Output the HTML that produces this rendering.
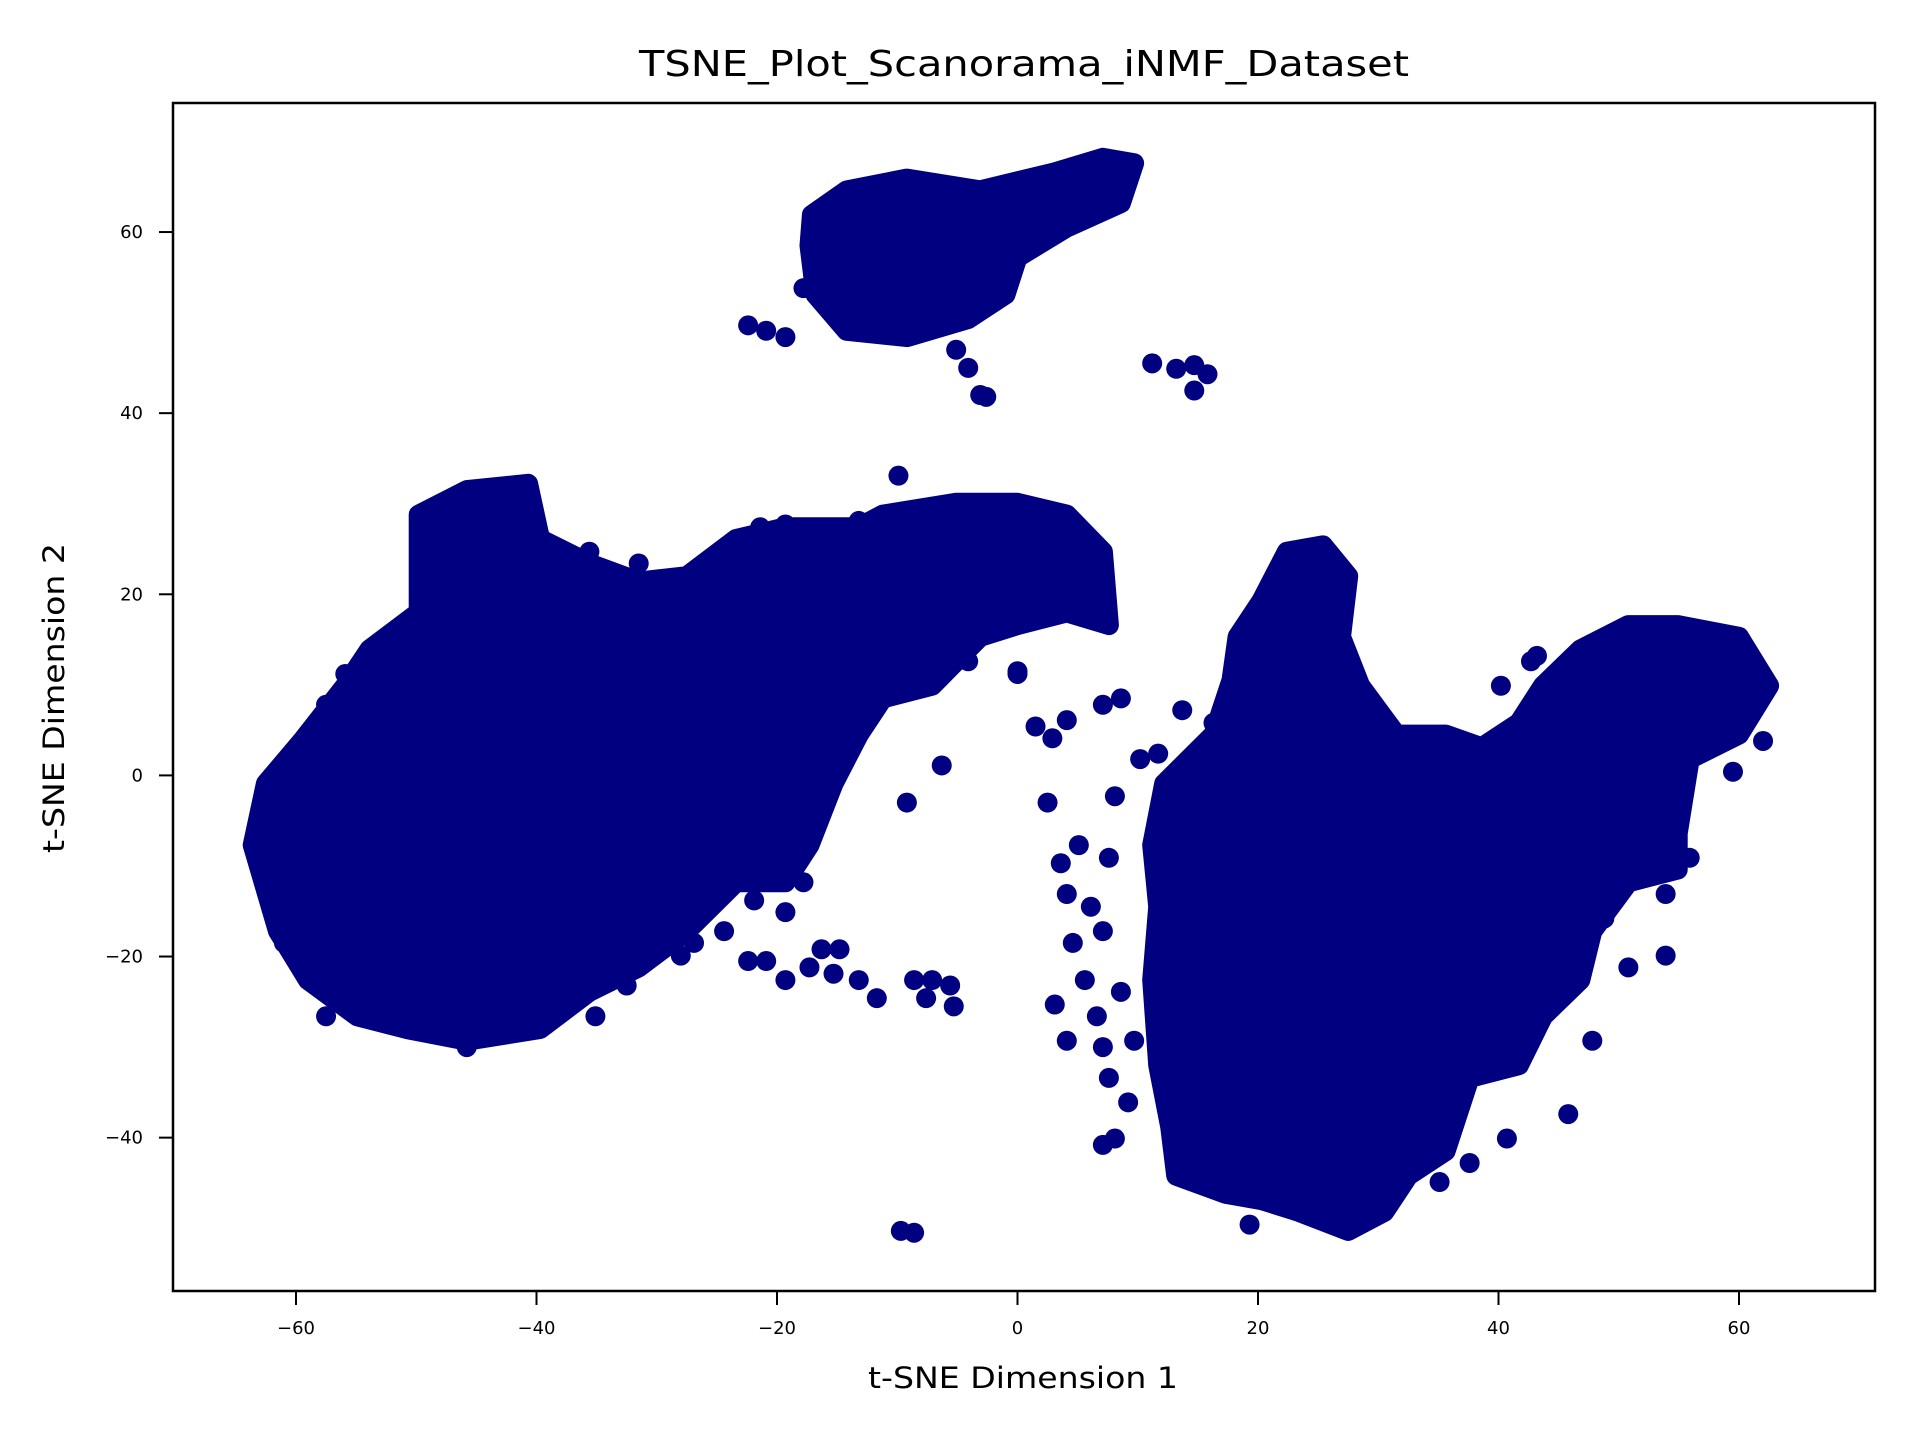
<!DOCTYPE html>
<html><head><meta charset="utf-8"><style>
html,body{margin:0;padding:0;background:#fff;}
svg{display:block;font-family:"DejaVu Sans","Liberation Sans",sans-serif;}
</style></head><body>
<svg id="chart" width="1920" height="1440" viewBox="0 0 1920 1440">
<rect width="1920" height="1440" fill="#fff"/>
<text x="1024" y="76" font-size="36" text-anchor="middle" textLength="770" lengthAdjust="spacingAndGlyphs">TSNE_Plot_Scanorama_iNMF_Dataset</text>
<text x="1023" y="1388" font-size="29" text-anchor="middle" textLength="310" lengthAdjust="spacingAndGlyphs">t-SNE Dimension 1</text>
<text x="0" y="0" font-size="29" text-anchor="middle" textLength="310" lengthAdjust="spacingAndGlyphs" transform="translate(64,698) rotate(-90)">t-SNE Dimension 2</text>
<g id="marks"></g>
<g id="axes"></g>
</svg>
<script>
const xTicks = [-60, -40, -20, 0, 20, 40, 60];
const yTicks = [-40, -20, 0, 20, 40, 60];
// dense cluster outlines (data coordinates)
const clusterTopX = [-17.1,-14.2,-9.2,-3.1,3.1,7.1,9.7,8.6,4.1,0,-1,-4.1,-9.2,-14.2,-16.8,-17.3];
const clusterTopY = [61.9,64.6,65.9,64.6,66.6,68.2,67.6,63.2,60.5,57.2,53.1,50.4,48.4,49.1,53.1,58.5];
const clusterLeftX = [-63.6,-62.5,-59.5,-55.9,-53.9,-49.8,-49.8,-45.8,-40.7,-39.7,-35.6,-31.5,-27.5,-23.4,-19.3,-13.2,-11.2,-5.1,0,4.1,7.1,7.6,4.1,0,-3.1,-7.1,-11.2,-13.2,-15.3,-17.3,-19.3,-23.4,-27.5,-31.5,-35.6,-39.7,-45.8,-50.8,-54.9,-59,-61.5];
const clusterLeftY = [-7.7,-0.9,3.8,9.9,13.9,18.0,28.8,31.5,32.2,26.1,23.4,21.4,22.0,26.1,27.4,27.4,28.8,30.1,30.1,28.8,24.7,16.6,18.0,16.6,15.3,9.9,8.5,4.5,-0.9,-7.7,-11.8,-11.8,-17.2,-21.2,-23.9,-28.0,-29.3,-28.0,-26.6,-22.6,-17.2];
const clusterRightX = [11.2,12.2,16.3,17.8,18.3,20.3,22.4,25.4,27.5,26.9,28.5,31.5,35.6,38.6,41.7,43.7,46.8,50.8,54.9,60,62.5,60,55.9,54.9,54.9,50.8,47.8,46.8,43.7,41.7,37.6,35.6,32.5,30.5,27.5,23.4,20.3,17.3,13.2,12.7,11.7,11.2,11.7];
const clusterRightY = [-7.7,-0.9,4.5,10.5,15.3,19.3,24.7,25.4,22.0,15.3,9.9,4.5,4.5,3.1,5.8,9.9,13.9,16.6,16.6,15.3,9.9,4.5,1.8,-6.4,-10.4,-11.8,-17.2,-22.6,-26.6,-32.0,-33.4,-41.5,-44.2,-48.2,-50.3,-48.2,-46.9,-46.2,-44.2,-38.8,-32.0,-22.6,-14.5];
// individual scattered points
const pointsX = [-22.4,-20.9,-19.3,-17.8,-5.1,-4.1,-3.1,-2.6,11.2,13.2,14.7,15.8,14.7,-9.9,
 -22.4,-20.9,-19.3,-17.3,-15.3,-13.2,-11.7,-16.3,-14.8,-8.6,-7.1,-5.6,-7.6,-5.3,-9.7,-8.6,
 -6.3,-9.2,0,1.5,2.9,4.1,2.5,
 3.6,5.1,4.1,6.1,7.1,4.6,5.6,6.6,7.1,7.6,7.1,8.1,9.2,9.7,8.6,7.6,8.1,10.2,11.7,13.7,16.3,18.3,7.1,8.6,4.1,3.1,40.2,42.7,41.7,46.8,49.8,47.8,45.8,40.7,37.6,35.1,19.3,50.8,53.9,41.7,44.2,47.8,51.9,53.9,55.9,48.8,59.5,62.0,43.2,
 -55.9,-57.5,-60,-63.1,-62.5,-61,-56.4,-57.5,-48.3,-45.8,-40.7,-35.1,-32.5,-28,-26.9,-24.4,-21.9,-19.3,-17.8,-20.3,-25.4,-31.5,-35.6,-38.1,-23.4,-21.4,-19.3,-23.9,-13.2,-12.2,-9.2,-7.1,-4.1,0];
const pointsY = [49.7,49.1,48.4,53.8,47,45,42,41.8,45.5,44.9,45.3,44.3,42.5,33.1,
 -20.5,-20.5,-22.6,-21.2,-21.9,-22.6,-24.6,-19.2,-19.2,-22.6,-22.6,-23.2,-24.6,-25.5,-50.3,-50.5,
 1.1,-3.0,11.5,5.4,4.1,6.1,-3,
 -9.7,-7.7,-13.1,-14.5,-17.2,-18.5,-22.6,-26.6,-30.0,-33.4,-40.8,-40.1,-36.1,-29.3,-23.9,-9.1,-2.3,1.8,2.4,7.2,5.8,11.2,7.8,8.5,-29.3,-25.3,9.9,12.6,-6.4,-6.4,-7.7,-29.3,-37.4,-40.1,-42.8,-44.9,-49.6,-21.2,-19.9,-19.9,-21.2,-9.1,-9.1,-13.1,-9.1,-15.8,0.4,3.8,13.2,
 11.2,7.8,1.8,-5.0,-9.7,-18.5,-23.9,-26.6,-28.6,-30,-28.0,-26.6,-23.2,-19.9,-18.5,-17.2,-13.8,-15.1,-11.8,-9.1,12.6,23.4,24.7,22.0,24.7,27.4,27.7,21.4,28.1,27.4,22.0,19.3,12.6,11.2];

const L=173,R=1875,T=103,B=1291;
const xS = v => 1017.5 + v*12.025;
const yS = v => 775.4 - v*9.056;
const NS='http://www.w3.org/2000/svg';
const COLOR='#000080', RAD=10;
const marks=document.getElementById('marks');
const axes=document.getElementById('axes');
const clip=document.createElementNS(NS,'clipPath');clip.setAttribute('id','pc');
const cr=document.createElementNS(NS,'rect');
cr.setAttribute('x',L);cr.setAttribute('y',T);cr.setAttribute('width',R-L);cr.setAttribute('height',B-T);
clip.appendChild(cr);document.getElementById('chart').appendChild(clip);
marks.setAttribute('clip-path','url(#pc)');

function cluster(xs,ys,name){
  const p=document.createElementNS(NS,'polygon');
  p.setAttribute('points',xs.map((x,i)=>xS(x).toFixed(1)+','+yS(ys[i]).toFixed(1)).join(' '));
  p.setAttribute('fill',COLOR);p.setAttribute('stroke',COLOR);
  p.setAttribute('stroke-width',RAD*2);p.setAttribute('stroke-linejoin','round');
  
  
  marks.appendChild(p);
}
cluster(clusterTopX,clusterTopY,'cluster-top');
cluster(clusterLeftX,clusterLeftY,'cluster-left');
cluster(clusterRightX,clusterRightY,'cluster-right');
pointsX.forEach((x,i)=>{
  const c=document.createElementNS(NS,'circle');
  c.setAttribute('cx',xS(x));c.setAttribute('cy',yS(pointsY[i]));c.setAttribute('r',RAD);c.setAttribute('fill',COLOR);
  
  
  marks.appendChild(c);
});
const frame=document.createElementNS(NS,'rect');
frame.setAttribute('x',L);frame.setAttribute('y',T);frame.setAttribute('width',R-L);frame.setAttribute('height',B-T);
frame.setAttribute('fill','none');frame.setAttribute('stroke','#000');frame.setAttribute('stroke-width','2.5');


axes.appendChild(frame);
const fmt=v=>v<0?'\u2212'+Math.abs(v):String(v);
xTicks.forEach(v=>{
  const x=xS(v);
  const l=document.createElementNS(NS,'line');
  l.setAttribute('x1',x);l.setAttribute('x2',x);l.setAttribute('y1',B);l.setAttribute('y2',B+14);
  l.setAttribute('stroke','#000');l.setAttribute('stroke-width','2');
  
  
  axes.appendChild(l);
  const t=document.createElementNS(NS,'text');
  t.setAttribute('x',x);t.setAttribute('y',B+43);t.setAttribute('font-size','18');t.setAttribute('text-anchor','middle');
  t.textContent=fmt(v);
  
  
  axes.appendChild(t);
});
yTicks.forEach(v=>{
  const y=yS(v);
  const l=document.createElementNS(NS,'line');
  l.setAttribute('x1',L-14);l.setAttribute('x2',L);l.setAttribute('y1',y);l.setAttribute('y2',y);
  l.setAttribute('stroke','#000');l.setAttribute('stroke-width','2');
  
  
  axes.appendChild(l);
  const t=document.createElementNS(NS,'text');
  t.setAttribute('x',L-30);t.setAttribute('y',y+6);t.setAttribute('font-size','18');t.setAttribute('text-anchor','end');
  t.textContent=fmt(v);
  
  
  axes.appendChild(t);
});
</script>
</body></html>
